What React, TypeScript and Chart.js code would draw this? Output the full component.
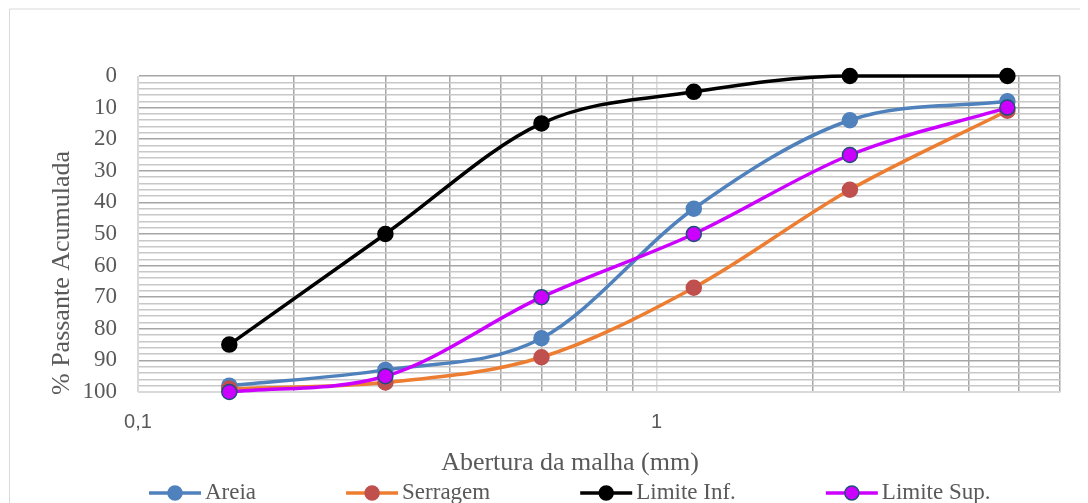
import React, { useEffect, useRef } from 'react';
import { Chart, registerables } from 'chart.js';

Chart.register(...registerables);

// ---- data ----
const sieveSizes = [0.15, 0.3, 0.6, 1.18, 2.36, 4.75];
const areia = [98, 93, 83, 42, 14, 8];
const serragem = [99, 97, 89, 67, 36, 11];
const limiteInf = [85, 50, 15, 5, 0, 0];
const limiteSup = [100, 95, 70, 50, 25, 10];

const seriesNames = ['Areia', 'Serragem', 'Limite Inf.', 'Limite Sup.'];
const xGridValues = [0.1, 0.2, 0.3, 0.4, 0.5, 0.6, 0.7, 0.8, 0.9, 1, 2, 3, 4, 5, 6];
const xLabeled: Record<string, string> = { '0.1': '0,1', '1': '1' };
const yGridValues = Array.from({ length: 51 }, (_, i) => i * 2);
const yLabelStep = 10;

const xTitle = 'Abertura da malha (mm)';
const yTitle = '% Passante Acumulada';

const SERIF = '"Liberation Serif", "Times New Roman", serif';
const SANS = '"Liberation Sans", Arial, sans-serif';
const TEXT = '#595959';

const styles = [
  { line: '#4F81BD', fill: '#4F81BD', border: '#4F81BD' },
  { line: '#ED7D31', fill: '#C0504D', border: '#C0504D' },
  { line: '#000000', fill: '#000000', border: '#000000' },
  { line: '#CC00FF', fill: '#CC00FF', border: '#1F4E79' },
];

const seriesValues = [areia, serragem, limiteInf, limiteSup];

const frameBorder = {
  id: 'frameBorder',
  beforeDraw(chart: any) {
    const ctx = chart.ctx;
    ctx.save();
    ctx.strokeStyle = '#d9d9d9';
    ctx.lineWidth = 1;
    ctx.beginPath();
    ctx.moveTo(1.5, chart.height);
    ctx.lineTo(1.5, 1);
    ctx.lineTo(chart.width, 1);
    ctx.stroke();
    ctx.restore();
  },
};

const axisTitles = {
  id: 'axisTitles',
  afterDraw(chart: any) {
    const ctx = chart.ctx;
    ctx.save();
    ctx.fillStyle = TEXT;
    ctx.font = `26px ${SERIF}`;
    ctx.textAlign = 'center';
    ctx.textBaseline = 'middle';
    ctx.fillText(xTitle, 562, 455);
    ctx.translate(54, 265);
    ctx.rotate(-Math.PI / 2);
    ctx.fillText(yTitle, 0, 0);
    ctx.restore();
  },
};

const customLegend = {
  id: 'customLegend',
  afterDraw(chart: any) {
    const ctx = chart.ctx;
    ctx.save();
    ctx.font = `23px ${SERIF}`;
    ctx.textBaseline = 'middle';
    ctx.textAlign = 'left';
    const y = 485;
    let x = 141;
    const lineLen = 52;
    seriesNames.forEach((name, i) => {
      const st = styles[i];
      ctx.strokeStyle = st.line;
      ctx.lineWidth = 3.5;
      ctx.beginPath();
      ctx.moveTo(x, y);
      ctx.lineTo(x + lineLen, y);
      ctx.stroke();
      ctx.beginPath();
      ctx.arc(x + lineLen / 2, y, 7, 0, Math.PI * 2);
      ctx.fillStyle = st.fill;
      ctx.fill();
      ctx.lineWidth = 1.5;
      ctx.strokeStyle = st.border;
      ctx.stroke();
      ctx.fillStyle = TEXT;
      ctx.fillText(name, x + lineLen + 4, y);
      x += lineLen + 4 + ctx.measureText(name).width + 90;
    });
    ctx.restore();
  },
};

export default function App() {
  const ref = useRef<HTMLCanvasElement | null>(null);

  useEffect(() => {
    document.body.style.overflow = 'hidden';
    const canvas = ref.current;
    if (!canvas) return;
    const datasets = seriesNames.map((name, i) => ({
      label: name,
      data: sieveSizes.map((x, j) => ({ x, y: seriesValues[i][j] })),
      borderColor: styles[i].line,
      backgroundColor: styles[i].fill,
      pointBackgroundColor: styles[i].fill,
      pointBorderColor: styles[i].border,
      pointBorderWidth: 1.5,
      pointRadius: 7.5,
      borderWidth: 3.5,
      cubicInterpolationMode: 'monotone' as const,
      order: seriesNames.length - i,
      clip: false as any,
    }));

    const chart = new Chart(canvas, {
      type: 'line',
      data: { datasets },
      plugins: [frameBorder, axisTitles, customLegend],
      options: {
        animation: false,
        responsive: false,
        devicePixelRatio: 1,
        layout: { padding: { top: 68, right: 28, left: 0, bottom: 29 } },
        plugins: { legend: { display: false }, tooltip: { enabled: false } },
        scales: {
          x: {
            type: 'logarithmic',
            min: 0.1,
            max: 6,
            afterBuildTicks: (scale: any) => {
              scale.ticks = xGridValues.map((v) => ({ value: v }));
            },
            afterFit: (scale: any) => {
              scale.height = 82;
            },
            ticks: {
              autoSkip: false,
              maxRotation: 0,
              padding: 18,
              color: TEXT,
              font: { family: SANS, size: 20 },
              callback: (v: any) => xLabeled[String(v)] ?? '',
            },
            grid: {
              drawTicks: false,
              lineWidth: 1.5,
              color: (c: any) => {
                const v = c.tick?.value;
                if (v === 1 || v === 0.1) return '#d9d9d9';
                return '#a6a6a6';
              },
            },
            border: { display: true, color: '#d9d9d9', width: 1 },
            title: { display: false },
          },
          y: {
            type: 'linear',
            min: 0,
            max: 100,
            reverse: true,
            afterBuildTicks: (scale: any) => {
              scale.ticks = yGridValues.map((v) => ({ value: v }));
            },
            afterFit: (scale: any) => {
              scale.width = 130;
            },
            ticks: {
              autoSkip: false,
              padding: 21,
              color: TEXT,
              font: { family: SERIF, size: 23 },
              callback: (v: any) => (Number(v) % yLabelStep === 0 ? String(v) : ''),
            },
            grid: {
              drawTicks: false,
              lineWidth: 1.5,
              color: (c: any) => {
                const v = c.tick?.value;
                if (v === 100) return '#d9d9d9';
                return v % 10 === 0 ? '#a6a6a6' : '#c8c8c8';
              },
            },
            border: { display: true, color: '#d9d9d9', width: 1 },
            title: { display: false },
          },
        },
      },
    } as any);
    return () => chart.destroy();
  }, []);

  return (
    <div style={{ width: 1080, height: 495 }}>
      <canvas ref={ref} width={1080} height={495} style={{ display: 'block' }} />
    </div>
  );
}
